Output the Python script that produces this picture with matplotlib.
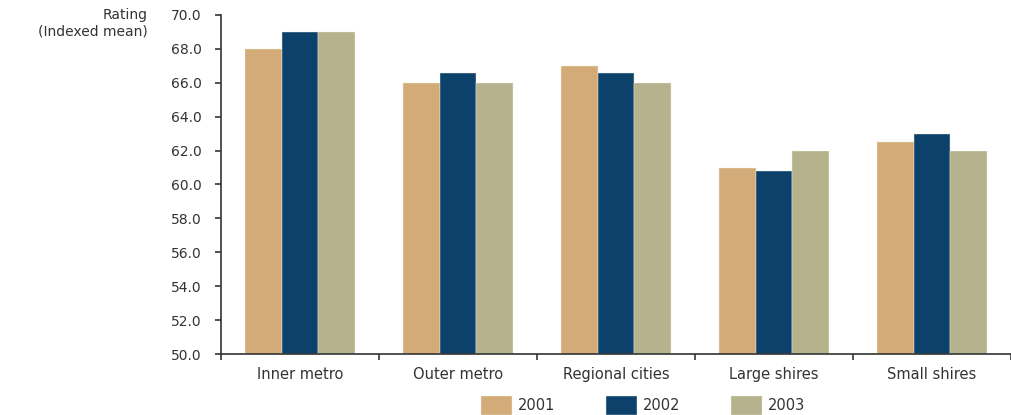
import matplotlib.pyplot as plt
import numpy as np

categories = ["Inner metro", "Outer metro", "Regional cities", "Large shires", "Small shires"]
years = ["2001", "2002", "2003"]
v2001 = [68.0, 66.0, 67.0, 61.0, 62.5]
v2002 = [69.0, 66.6, 66.6, 60.8, 63.0]
v2003 = [69.0, 66.0, 66.0, 62.0, 62.0]
colors = ["#D2AB78", "#0C416C", "#B5B28D"]

fig = plt.figure(figsize=(10.11, 4.15), dpi=100)
ax = fig.add_axes([221 / 1011, 1 - 354 / 415, 1 - 221 / 1011, (354 - 15) / 415])

x = np.arange(len(categories))
w = 0.23
for i, (vals, yr) in enumerate(zip([v2001, v2002, v2003], years)):
    ax.bar(x + (i - 1) * w, np.array(vals) - 50, bottom=50, width=w,
           color=colors[i], label=yr, edgecolor="#f0ede0", linewidth=0.3)

ax.set_ylim(50, 70)
ax.set_xlim(-0.5, len(categories) - 0.5)
ax.set_yticks(np.arange(50, 70.1, 2))
ax.set_yticklabels(["%.1f" % v for v in np.arange(50, 70.1, 2)], fontsize=10, color="#333333")
ax.tick_params(axis="y", length=4, width=1.2, pad=10, color="#333333")

# boundary ticks on x, labels at centers
ax.set_xticks(np.arange(len(categories) + 1) - 0.5)
ax.set_xticklabels([])
ax.tick_params(axis="x", which="major", length=4, width=1.2, color="#333333")
ax.set_xticks(x, minor=True)
ax.set_xticklabels(categories, minor=True, fontsize=10.5, color="#333333")
ax.tick_params(axis="x", which="minor", length=0, pad=9)

for s in ["top", "right"]:
    ax.spines[s].set_visible(False)
for s in ["left", "bottom"]:
    ax.spines[s].set_color("#333333")
    ax.spines[s].set_linewidth(1.2)

fig.text(148 / 1011, 1 - 23 / 415, "Rating\n(Indexed mean)", ha="right", va="center",
         multialignment="right", fontsize=10, color="#333333", linespacing=1.2)

fig.legend(loc="upper center", bbox_to_anchor=(643 / 1011, 1 - 396 / 415), ncol=3,
           frameon=False, fontsize=10.5, handlelength=2.1, handleheight=1.6,
           handletextpad=0.4, columnspacing=3.5, borderpad=0, borderaxespad=0,
           labelcolor="#333333")

plt.savefig("out.png", dpi=100)
